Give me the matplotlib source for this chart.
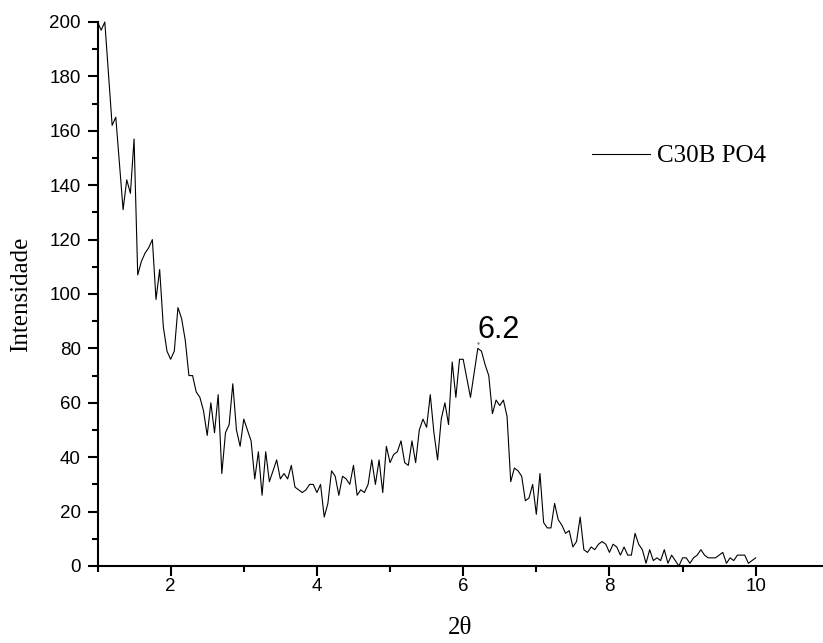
import numpy as np
import matplotlib
matplotlib.use("Agg")
import matplotlib.pyplot as plt
from matplotlib.ticker import MultipleLocator

# XRD scan of C30B PO4: intensity sampled every 0.05 deg from 1.0 to 10.0
two_theta_start = 1.0
two_theta_end = 10.0
intensity = [
    200, 197, 200, 181, 162, 165, 148, 131, 142, 137,
    157, 107, 112, 115, 117, 120, 98, 109, 88, 79,
    76, 79, 95, 91, 83, 70, 70, 64, 62, 57,
    48, 60, 49, 63, 34, 49, 52, 67, 50, 44,
    54, 50, 46, 32, 42, 26, 42, 31, 35, 39,
    32, 34, 32, 37, 29, 28, 27, 28, 30, 30,
    27, 30, 18, 23, 35, 33, 26, 33, 32, 30,
    37, 26, 28, 27, 30, 39, 30, 39, 27, 44,
    38, 41, 42, 46, 38, 37, 46, 38, 50, 54,
    51, 63, 49, 39, 54, 60, 52, 75, 62, 76,
    76, 69, 62, 71, 80, 79, 74, 70, 56, 61,
    59, 61, 55, 31, 36, 35, 33, 24, 25, 30,
    19, 34, 16, 14, 14, 23, 17, 15, 12, 13,
    7, 9, 18, 6, 5, 7, 6, 8, 9, 8,
    5, 8, 7, 4, 7, 4, 4, 12, 8, 6,
    1, 6, 2, 3, 2, 6, 1, 4, 2, 0,
    3, 3, 1, 3, 4, 6, 4, 3, 3, 3,
    4, 5, 1, 3, 2, 4, 4, 4, 1, 2,
    3,
]
two_theta = np.linspace(two_theta_start, two_theta_end, len(intensity))

series_label = "C30B PO4"
peak_x = 6.2
peak_y = 80
peak_text = "6.2"
x_label = "2\u03b8"
y_label = "Intensidade"

serif = ["Liberation Serif", "DejaVu Serif"]
sans = ["Liberation Sans", "DejaVu Sans"]

fig = plt.figure(figsize=(8.23, 6.43), dpi=100)
ax = fig.add_axes([97.5 / 823, 77 / 643, 1 - 97.5 / 823, (566 - 22) / 643])

ax.plot(two_theta, intensity, color="black", lw=0.8, label=series_label,
        clip_on=False)

ax.set_xlim(1, 10.92)
ax.set_ylim(0, 200)

for side in ("top", "right"):
    ax.spines[side].set_visible(False)
for side in ("left", "bottom"):
    ax.spines[side].set_linewidth(1.5)

ax.xaxis.set_major_locator(MultipleLocator(2))
ax.xaxis.set_minor_locator(MultipleLocator(1))
ax.yaxis.set_major_locator(MultipleLocator(20))
ax.yaxis.set_minor_locator(MultipleLocator(10))
ax.tick_params(which="major", direction="out", length=7, width=1.5)
ax.tick_params(which="minor", direction="out", length=4, width=1.5)
ax.tick_params(axis="x", which="major", pad=1.5)
ax.tick_params(axis="y", which="major", pad=5)

for lbl in ax.get_xticklabels() + ax.get_yticklabels():
    lbl.set_fontfamily(sans)
    lbl.set_fontsize(13.5)

ax.set_xlabel(x_label, family=serif, fontsize=18, labelpad=16)
ax.set_ylabel(y_label, family=serif, fontsize=18)
ax.yaxis.set_label_coords(-(97.5 - 32) / 726, 0.5)

# peak annotation
ax.plot([peak_x], [peak_y + 2], marker=".", ms=1.5, color="gray")
ax.text(peak_x, peak_y + 4, peak_text, family=sans, fontsize=22,
        ha="left", va="baseline")

leg = ax.legend(loc="center left", frameon=False,
                bbox_to_anchor=(592 / 823, 1 - 156 / 643),
                bbox_transform=fig.transFigure,
                borderpad=0, borderaxespad=0, handlelength=2.3,
                handletextpad=0.3, prop={"family": serif, "size": 18})

fig.savefig("out.png", dpi=100)
